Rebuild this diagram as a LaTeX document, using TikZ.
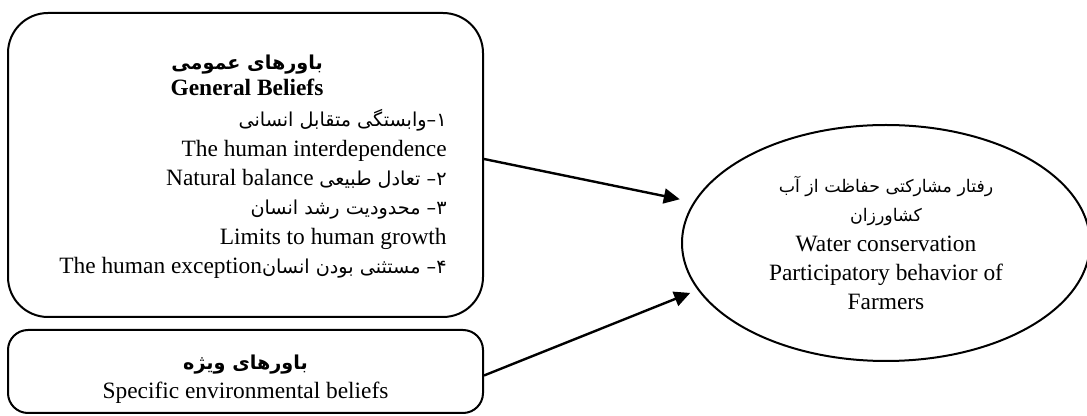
\documentclass[tikz,border=0pt]{standalone}
\usepackage{fontspec}
\setmainfont{Liberation Serif}
\newfontfamily\fafont[Script=Arabic, Scale=0.82]{DejaVu Sans}
\TeXXeTstate=1
\usetikzlibrary{positioning, arrows.meta, shapes.geometric}
\newcommand{\fa}[1]{{\fafont\beginR #1\endR}}
\newcommand{\fasmall}[1]{{\fontsize{10.6}{14.7}\selectfont\fafont\beginR #1\endR}}

\begin{document}
\begin{tikzpicture}[x=0.5pt, y=-0.5pt,
    beliefbox/.style={draw, line width=1pt, minimum width=237.5pt},
    txt/.style={font=\fontsize{11.7}{14.7}\selectfont, inner sep=0pt},
    link/.style={line width=1.2pt, -{Triangle[length=8pt, width=7.5pt]}}]
  \useasboundingbox (0,0) rectangle (1087,416);
  % belief boxes
  \node[beliefbox, rounded corners=20pt, minimum height=152pt] (gen) at (245.5,165) {};
  \node[txt, align=center, font=\fontsize{11.7}{13}\selectfont\bfseries] (genTitle) at (247,75)
    {\fa{باورهای عمومی}\\General Beliefs};
  \node[txt, align=right, anchor=east] (genList) at (447,194)
    {\fa{۱–وابستگی متقابل انسانی}\\
     The human interdependence\\
     \beginR{\fafont ۲– تعادل طبیعی} \beginL Natural balance\endL\endR\\
     \fa{۳– محدودیت رشد انسان}\\
     Limits to human growth\\
     \beginR{\fafont ۴– مستثنی بودن انسان}\beginL The human exception\endL\endR};
  \node[beliefbox, rounded corners=10pt, minimum height=41.5pt] (spec) at (245.5,371.5) {};
  \node[txt, align=center] (specText) at (245.5,379)
    {{\bfseries\fa{باورهای ویژه}}\\Specific environmental beliefs};
  % outcome
  \node[draw, ellipse, line width=1pt, minimum width=204pt, minimum height=118pt, txt, align=center] (behav) at (886,243)
    {\fasmall{رفتار مشارکتی حفاظت از آب}\\\fasmall{کشاورزان}\\
     Water conservation\\Participatory behavior of\\Farmers};
  \draw[link, shorten >=7pt] ([yshift=3pt]gen.east) -- (behav.168);
  \draw[link, shorten >=4pt] ([yshift=-2pt]spec.east) -- (behav.194);
\end{tikzpicture}
\end{document}
